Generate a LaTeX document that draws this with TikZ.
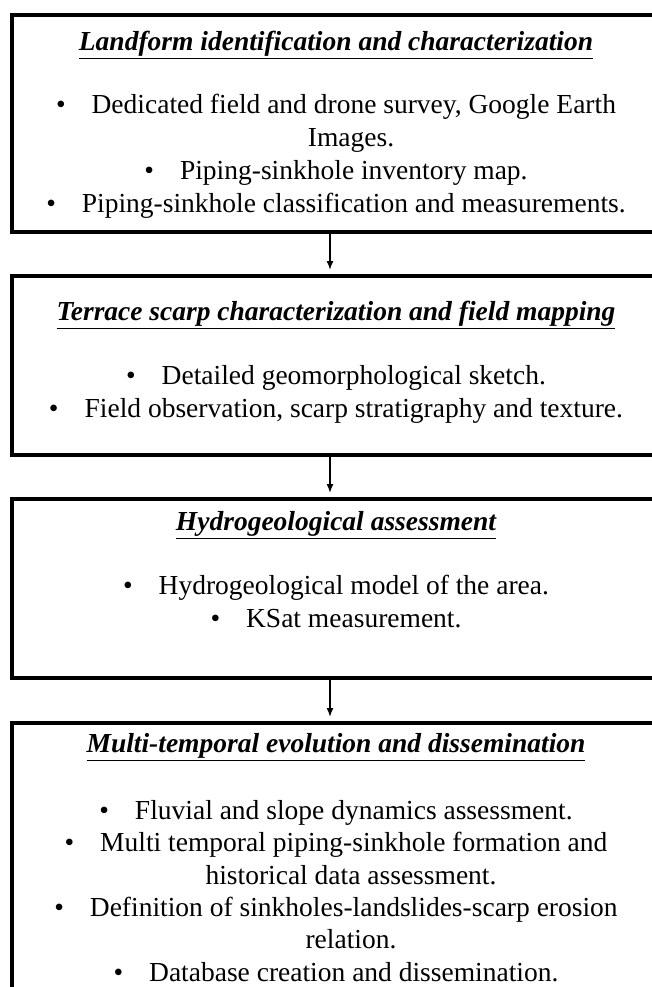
\documentclass[tikz,border=0pt]{standalone}
\usepackage{fontspec}
\setmainfont{Liberation Serif}
\usetikzlibrary{arrows.meta}
\newcommand{\bul}{\textbullet\hspace{26pt}}
\newcommand{\cont}{\hspace*{30pt}}
\begin{document}
\begin{tikzpicture}
  [x=1pt,y=-1pt,
   stage/.style={draw,line width=4pt,minimum width=652pt,inner sep=0pt,anchor=north west},
   heading/.style={inner sep=0pt,font=\fontsize{27.5}{33}\selectfont\bfseries\itshape},
   items/.style={align=center,anchor=north,inner sep=0pt,font=\fontsize{27.5}{33}\selectfont},
   flow/.style={line width=1.5pt,-{Latex[length=9pt,width=7pt]},shorten >=4pt}]
  \useasboundingbox (0,0) rectangle (652,987);
  \clip (0,0) rectangle (652,987);
  % the four boxes
  \node[stage,minimum height=217pt] (b1) at (10,13) {};
  \node[stage,minimum height=179pt] (b2) at (10,274) {};
  \node[stage,minimum height=179pt] (b3) at (10,497) {};
  \node[stage,minimum height=289pt] (b4) at (10,721) {};
  % headings
  \node[heading] (t1) at (336,45) {\underline{Landform identification and characterization}};
  \node[heading] (t2) at (336,315) {\underline{Terrace scarp characterization and field mapping}};
  \node[heading] (t3) at (336,525) {\underline{Hydrogeological assessment}};
  \node[heading] (t4) at (336,747) {\underline{Multi-temporal evolution and dissemination}};
  % bullet lists
  \node[items] (l1) at (336,94) {\bul Dedicated field and drone survey, Google Earth\\
    \cont Images.\\
    \bul Piping-sinkhole inventory map.\\
    \bul Piping-sinkhole classification and measurements.};
  \node[items] (l2) at (336,365) {\bul Detailed geomorphological sketch.\\
    \bul Field observation, scarp stratigraphy and texture.};
  \node[items] (l3) at (336,575) {\bul Hydrogeological model of the area.\\
    \bul KSat measurement.};
  \node[items,font=\fontsize{27.5}{32.4}\selectfont] (l4) at (336,800) {\bul Fluvial and slope dynamics assessment.\\
    \bul Multi temporal piping-sinkhole formation and\\
    \cont historical data assessment.\\
    \bul Definition of sinkholes-landslides-scarp erosion\\
    \cont relation.\\
    \bul Database creation and dissemination.};
 \path
    ([xshift=-8pt]b1.south) edge [flow] ([xshift=-8pt]b2.north)
    ([xshift=-8pt]b2.south) edge [flow] ([xshift=-8pt]b3.north)
    ([xshift=-8pt]b3.south) edge [flow] ([xshift=-8pt]b4.north)
    ;

\end{tikzpicture}
\end{document}
